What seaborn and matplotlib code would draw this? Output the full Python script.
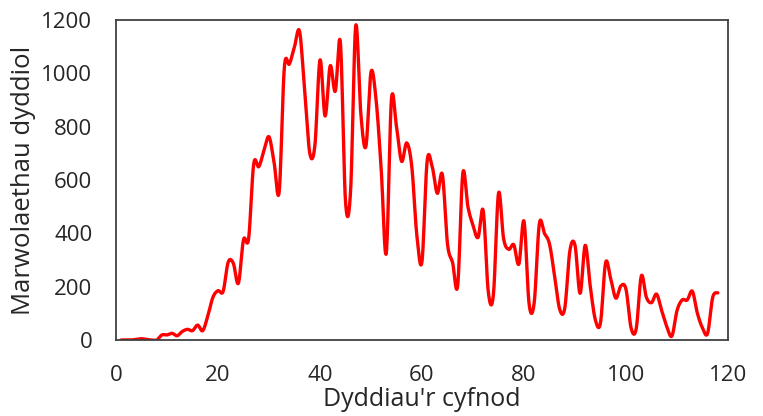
import numpy as np
import pandas as pd
import matplotlib
matplotlib.use("Agg")
import matplotlib.pyplot as plt
import seaborn as sns

# ---- data ----
days = list(range(1, 119))
deaths = [
    0, 0, 0, 3, 5, 2, 0, 0, 19, 19,
    25, 16, 32, 40, 35, 56, 35, 90, 160, 185,
    182, 292, 288, 213, 376, 380, 660, 650, 710, 762,
    665, 557, 1020, 1035, 1100, 1157, 930, 700, 730, 1050,
    840, 1028, 933, 1115, 520, 560, 1177, 850, 726, 1005,
    900, 640, 326, 900, 800, 670, 739, 650, 390, 295,
    670, 650, 550, 620, 360, 290, 205, 625, 500, 430,
    385, 485, 180, 170, 550, 380, 340, 357, 285, 445,
    135, 140, 435, 400, 360, 240, 115, 120, 335, 355,
    175, 355, 200, 75, 65, 290, 230, 157, 203, 190,
    45, 42, 240, 160, 140, 172, 110, 50, 15, 110,
    150, 150, 183, 100, 45, 25, 160, 177,
]
x_ticks = [0, 20, 40, 60, 80, 100, 120]
y_ticks = [0, 200, 400, 600, 800, 1000, 1200]
x_label = "Dyddiau'r cyfnod"
y_label = "Marwolaethau dyddiol"


def smooth_line(x, y, n=16):
    """Excel-style smoothed line: cubic Bezier through every point."""
    x = np.asarray(x, float)
    y = np.asarray(y, float)
    P = np.column_stack([x, y])
    Pp = np.vstack([P[0], P, P[-1]])
    t = np.linspace(0, 1, n, endpoint=False)[:, None]
    segs = []
    for i in range(1, len(Pp) - 2):
        p0, p1, p2, p3 = Pp[i - 1], Pp[i], Pp[i + 1], Pp[i + 2]
        c1 = p1 + (p2 - p0) / 6.0
        c2 = p2 - (p3 - p1) / 6.0
        b = ((1 - t) ** 3) * p1 + 3 * ((1 - t) ** 2) * t * c1 \
            + 3 * (1 - t) * t ** 2 * c2 + t ** 3 * p2
        segs.append(b)
    segs.append(P[-1][None, :])
    out = np.vstack(segs)
    return out[:, 0], out[:, 1]


sx, sy = smooth_line(days, deaths)
df = pd.DataFrame({"day": sx, "deaths": sy})

sns.set_theme(style="white")
plt.rcParams["font.family"] = ["Open Sans", "DejaVu Sans"]

fig = plt.figure(figsize=(7.63, 4.16), dpi=100)
ax = fig.add_axes([116 / 763, 1 - 340 / 416, (728 - 116) / 763, (340 - 20) / 416])

sns.lineplot(data=df, x="day", y="deaths", ax=ax, color="#ff0000",
             linewidth=2.4, sort=False, estimator=None)

ax.set_xlim(0, 120)
ax.set_ylim(0, 1200)
ax.set_xticks(x_ticks)
ax.set_yticks(y_ticks)
ax.tick_params(axis="both", direction="in", length=6, width=1.2,
               color="#404040", labelsize=16, labelcolor="#262626")
ax.tick_params(axis="y", pad=17)
ax.tick_params(axis="x", pad=18)
for s in ax.spines.values():
    s.set_visible(True)
    s.set_color("#404040")
    s.set_linewidth(1.3)

ax.set_xlabel(x_label, fontsize=18, color="#262626", labelpad=1)
ax.set_ylabel(y_label, fontsize=18.5, color="#262626")
ax.yaxis.set_label_coords(-80 / 612, 0.5)

fig.savefig("out.png", dpi=100)
